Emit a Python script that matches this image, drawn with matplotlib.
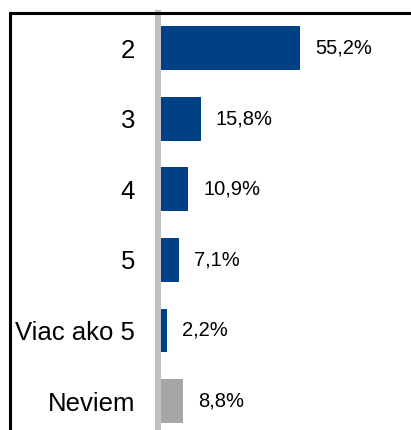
import matplotlib
matplotlib.use("Agg")
import matplotlib.pyplot as plt
from matplotlib.lines import Line2D

categories = ["2", "3", "4", "5", "Viac ako 5", "Neviem"]
values = [55.2, 15.8, 10.9, 7.1, 2.2, 8.8]
labels = ["55,2%", "15,8%", "10,9%", "7,1%", "2,2%", "8,8%"]
colors = ["#004185", "#004185", "#004185", "#004185", "#004185", "#a6a6a6"]

plt.rcParams["font.family"] = ["Liberation Sans", "DejaVu Sans"]

W, H = 411, 430
fig = plt.figure(figsize=(W / 100, H / 100), dpi=100)
fig.patch.set_facecolor("white")

ax_left = 158
ax_top = 13
ax = fig.add_axes([ax_left / W, 0, (W - ax_left) / W, 1 - ax_top / H])

pos = list(range(len(categories)))
ax.barh(pos, values, height=0.62, color=colors, zorder=3)

px_per_unit = 139 / 55.2
ax.set_xlim(-3 / px_per_unit, -3 / px_per_unit + (W - ax_left) / px_per_unit)
ax.set_ylim(5.41, -0.496)

for p, v, lab in zip(pos, values, labels):
    ax.annotate(lab, xy=(v, p), xytext=(10.8, 0), textcoords="offset points",
                va="center", ha="left", fontsize=14.5, color="black")

ax.set_yticks(pos)
ax.set_yticklabels(categories, fontsize=18.5, color="black")
ax.tick_params(axis="y", length=0, pad=16.6)
ax.set_xticks([])

for s in ["top", "right", "bottom"]:
    ax.spines[s].set_visible(False)
ax.spines["left"].set_color("#c0c0c0")
ax.spines["left"].set_linewidth(4.3)
ax.set_facecolor("none")

# outer frame (left and top edges visible)
fx = 9.5 / W
fy = 1 - 13 / H
fig.add_artist(Line2D([fx, fx], [0, fy], transform=fig.transFigure, color="black", lw=2.2))
fig.add_artist(Line2D([fx, 1], [fy, fy], transform=fig.transFigure, color="black", lw=2.2))

fig.savefig("out.png", dpi=100)
